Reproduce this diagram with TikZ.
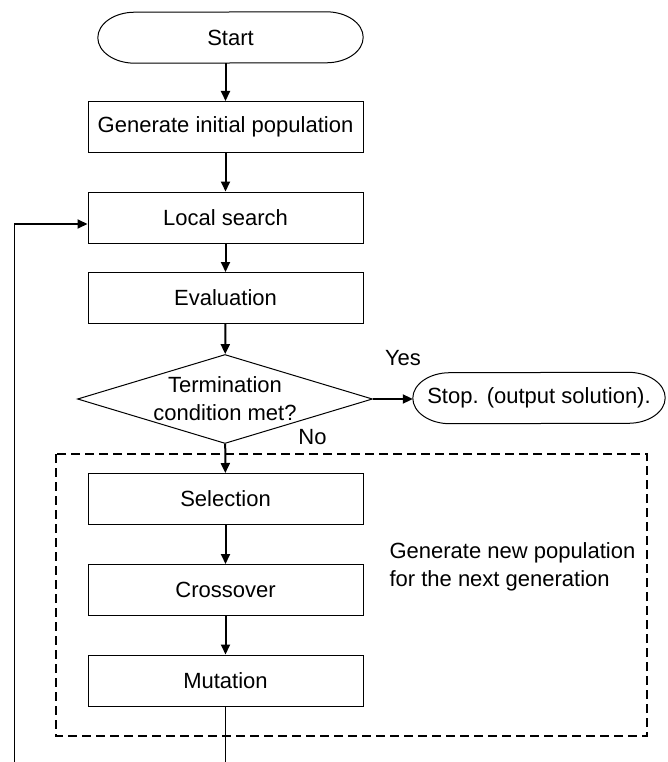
\documentclass[tikz,border=0pt]{standalone}
\usepackage{fontspec}
\setmainfont{Liberation Sans}
\usetikzlibrary{arrows.meta, shapes.geometric}

\tikzset{
  process/.style={draw, line width=1pt, rectangle, minimum width=275pt, minimum height=51pt, inner sep=0pt},
  terminal/.style={rectangle, minimum height=51pt, inner sep=0pt},
  decision/.style={draw, line width=1pt, diamond, aspect=3.3, minimum width=295pt, minimum height=89pt, inner sep=0pt, align=center},
  flow/.style={line width=2pt, -{Triangle[length=10pt, width=9pt]}},
  thinline/.style={line width=1pt},
  groupbox/.style={line width=2pt, dash pattern=on 9pt off 5pt}
}

% outline of a start/stop node: straight sides, half-ellipse ends
\newcommand{\terminaloutline}[1]{%
  \draw [line width=1pt] ([xshift=-37pt]#1.north east)
    arc[start angle=90, end angle=-90, x radius=37pt, y radius=25.5pt]
    -- ([xshift=37pt]#1.south west)
    arc[start angle=270, end angle=90, x radius=37pt, y radius=25.5pt]
    -- cycle;}

\begin{document}
\begin{tikzpicture}[x=1pt, y=-1pt, font=\fontsize{22}{28}\selectfont]
\useasboundingbox (0,0) rectangle (667,762);

\node [terminal, minimum width=265pt] (start) at (230.5,37.5) {Start};
\terminaloutline{start}
\node [process] (init) at (225.5,127) {Generate initial population};
\node [process] (local) at (225.5,217.5) {Local search};
\node [process] (eval) at (225.5,298) {Evaluation};
\node [decision] (term) at (225,399) {Termination\\condition met?};
\node [terminal, minimum width=252pt] (stop) at (539,398) {Stop. (output solution).};
\terminaloutline{stop}
\node (yes) at (403,358) {Yes};
\node (no) at (312.5,437) {No};

% the GA operators
\coordinate (groupNW) at (56,454);
\coordinate (groupSE) at (647,736);
\draw [groupbox] (groupNW) rectangle (groupSE);
\node [process] (sel) at (225.5,499) {Selection};
\node [process] (cross) at (225.5,590) {Crossover};
\node [process] (mut) at (225.5,680.5) {Mutation};
\node [align=left, anchor=west] (newpop) at (386,567) {Generate new population\\for the next generation};

\draw [flow] (start.south -| init.north) -- (init.north);
\draw [flow] (init) -- (local);
\draw [flow] (local) -- (eval);
\draw [flow] (eval) -- (term);
\draw [flow] (term.east) -- (term.east -| stop.west);
\draw [flow] (term) -- (sel);
\draw [flow] (sel) -- (cross);
\draw [flow] (cross) -- (mut);

% loop back (cut at the bottom edge)
\coordinate (mutend) at (225.5,762);
\coordinate (loopend) at (14,762);
\coordinate (loopturn) at (14,224);
\draw [thinline] (mut) -- (mutend);
\draw [thinline] (loopend) -- (loopturn);
\draw [flow] (loopturn) -- (loopturn -| local.west);

\end{tikzpicture}
\end{document}
